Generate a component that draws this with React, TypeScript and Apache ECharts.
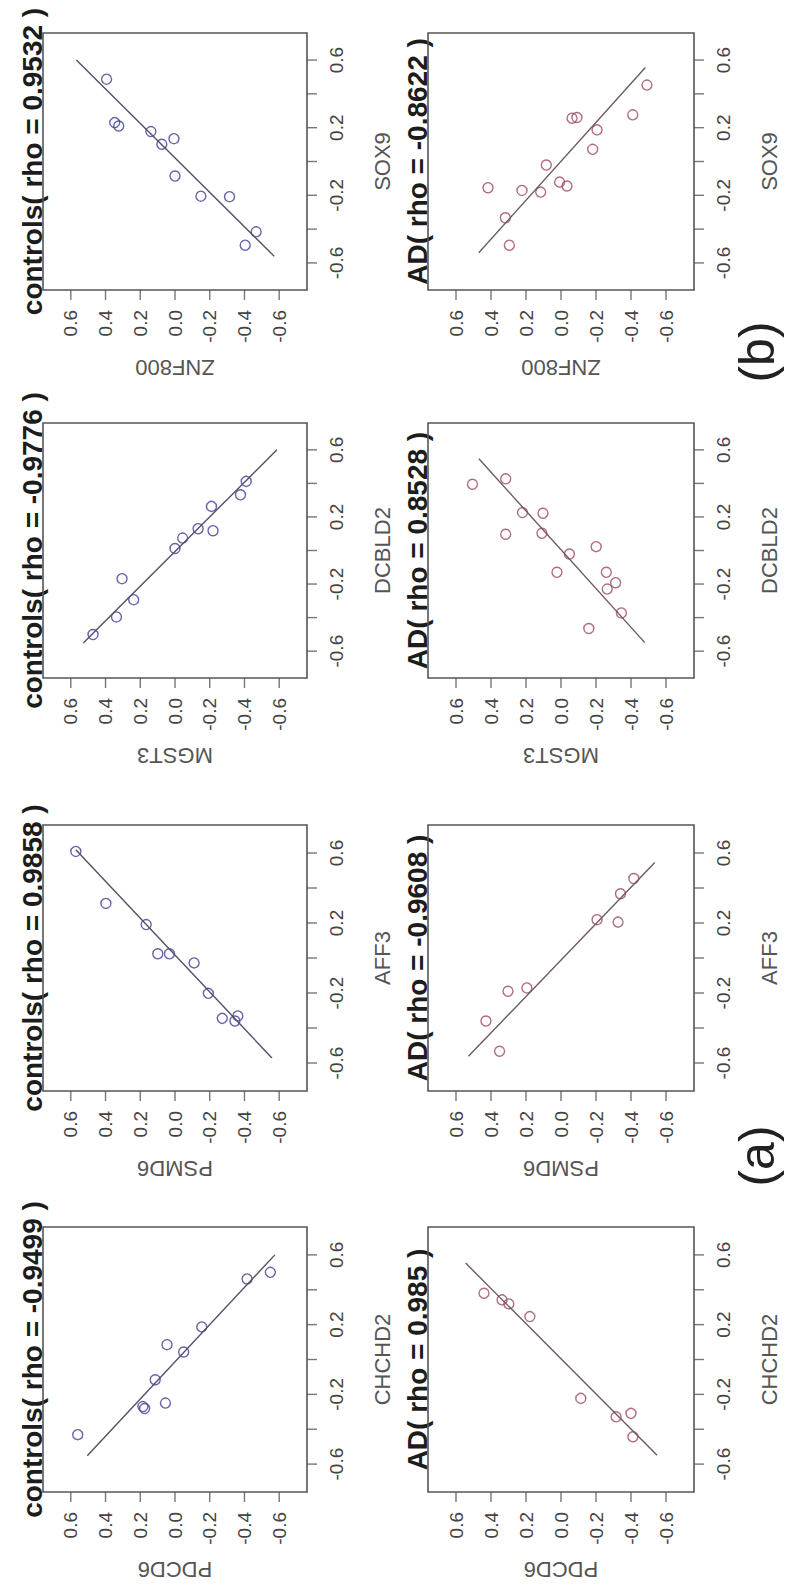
import React, { useEffect, useRef } from "react";
import * as echarts from "echarts";

// Axis range covered by the tick marks; the frame extends a little past it
const TICK_MIN = -0.6;
const TICK_MAX = 0.6;
const TICK_STEP = 0.2;
const FRAME_LIMIT = 0.76;
const TICK_VALUES = [-0.6, -0.4, -0.2, 0, 0.2, 0.4, 0.6];
const SIDE_LABELS = [-0.6, -0.2, 0.2, 0.6];

// Gene pairs per row: bottom axis gene, side axis gene
const bottomGenes = ["ZNF800", "MGST3", "PSMD6", "PDCD6"];
const sideGenes = ["SOX9", "DCBLD2", "AFF3", "CHCHD2"];
const rhoControls = ["0.9532", "-0.9776", "0.9858", "-0.9499"];
const rhoAD = ["-0.8622", "0.8528", "-0.9608", "0.985"];

// Points are [bottom gene, side gene]
const znf800Sox9Controls = [
  [0.394, 0.487], [0.347, 0.23], [0.324, 0.21], [0.139, 0.177], [0.076, 0.102],
  [0.006, 0.135], [0.0, -0.086], [-0.149, -0.205], [-0.314, -0.208], [-0.467, -0.416], [-0.404, -0.495],
];
const znf800Sox9AD = [
  [0.417, -0.155], [0.318, -0.333], [0.295, -0.495], [0.223, -0.171], [0.116, -0.181],
  [0.084, -0.021], [0.008, -0.122], [-0.034, -0.145], [-0.063, 0.256], [-0.091, 0.26],
  [-0.181, 0.072], [-0.206, 0.187], [-0.41, 0.276], [-0.491, 0.452],
];
const mgst3Dcbld2Controls = [
  [0.472, -0.501], [0.337, -0.396], [0.305, -0.168], [0.238, -0.293], [0.0, 0.012],
  [-0.044, 0.074], [-0.133, 0.13], [-0.21, 0.263], [-0.219, 0.118], [-0.377, 0.332], [-0.41, 0.412],
];
const mgst3Dcbld2AD = [
  [0.506, 0.395], [0.316, 0.427], [0.22, 0.226], [0.103, 0.222], [0.316, 0.097],
  [0.109, 0.103], [-0.048, -0.021], [0.023, -0.13], [-0.201, 0.023], [-0.259, -0.13],
  [-0.312, -0.192], [-0.264, -0.23], [-0.345, -0.372], [-0.159, -0.465],
];
const psmd6Aff3Controls = [
  [0.571, 0.609], [0.398, 0.312], [0.166, 0.191], [0.099, 0.024], [0.032, 0.024],
  [-0.11, -0.028], [-0.192, -0.202], [-0.272, -0.345], [-0.345, -0.36], [-0.362, -0.331],
];
const psmd6Aff3AD = [
  [0.429, -0.36], [0.351, -0.533], [0.303, -0.19], [0.195, -0.171],
  [-0.206, 0.219], [-0.326, 0.205], [-0.34, 0.367], [-0.416, 0.454],
];
const pdcd6Chchd2Controls = [
  [0.56, -0.431], [0.185, -0.27], [0.175, -0.281], [0.055, -0.25], [0.114, -0.116],
  [0.046, 0.085], [-0.05, 0.043], [-0.154, 0.187], [-0.415, 0.462], [-0.549, 0.5],
];
const pdcd6Chchd2AD = [
  [0.44, 0.38], [0.337, 0.342], [0.298, 0.319], [0.178, 0.246],
  [-0.113, -0.223], [-0.315, -0.329], [-0.4, -0.309], [-0.411, -0.443],
];

// Fitted line end points, [bottom gene, side gene]
const fitControls = [
  [[0.568, 0.6], [-0.571, -0.56]],
  [[0.528, -0.551], [-0.587, 0.6]],
  [[0.571, 0.619], [-0.558, -0.571]],
  [[0.505, -0.552], [-0.575, 0.6]],
];
const fitAD = [
  [[0.47, -0.54], [-0.482, 0.556]],
  [[0.469, 0.547], [-0.479, -0.549]],
  [[0.529, -0.562], [-0.536, 0.546]],
  [[0.545, 0.553], [-0.549, -0.549]],
];

const pointsControls = [znf800Sox9Controls, mgst3Dcbld2Controls, psmd6Aff3Controls, pdcd6Chchd2Controls];
const pointsAD = [znf800Sox9AD, mgst3Dcbld2AD, psmd6Aff3AD, pdcd6Chchd2AD];

// Panel frames (outer box of each plot)
const ROW_TOP = [33, 423, 825, 1227];
const ROW_H = [257, 255, 266, 265];
const COL_LEFT = [43, 428];
const COL_W = [264, 266];
const TICK_LEN = 10;

const FONT = "'Liberation Sans', Arial, sans-serif";
const FRAME = "#555";
const GROUP_STYLE = [
  { point: "#3f3f93", line: "#505068", title: "controls" },
  { point: "#9c4a5c", line: "#6c5a5e", title: "AD" },
];

const fmt = (v: number) => {
  const s = (Math.round(v * 10) / 10).toFixed(1);
  return s === "-0.0" ? "0.0" : s;
};
const fmtSide = (v: number) =>
  SIDE_LABELS.some((t) => Math.abs(t - v) < 1e-6) ? fmt(v) : "";

const hiddenAxis = (gridIndex: number, min = TICK_MIN, max = TICK_MAX) => ({
  gridIndex, type: "value", min, max, show: false,
  axisLine: { show: false }, axisTick: { show: false }, axisLabel: { show: false }, splitLine: { show: false },
});

export default function App() {
  const ref = useRef<HTMLDivElement>(null);

  useEffect(() => {
    if (!ref.current) return;
    const chart = echarts.init(ref.current, undefined, { renderer: "svg" });

    const grids: any[] = [];
    const xAxes: any[] = [];
    const yAxes: any[] = [];
    const series: any[] = [];
    const graphics: any[] = [];

    const f = TICK_MAX / FRAME_LIMIT;
    const labelBase = { rotate: 90, margin: 10, fontSize: 19, color: "#444", fontFamily: FONT };
    const tickMarkStyle = { color: FRAME, borderWidth: 0 };

    for (let r = 0; r < 4; r++) {
      for (let c = 0; c < 2; c++) {
        const boxL = COL_LEFT[c];
        const boxT = ROW_TOP[r];
        const w = COL_W[c];
        const h = ROW_H[r];
        const st = GROUP_STYLE[c];
        const padX = (w / 2) * (1 - f);
        const padY = (h / 2) * (1 - f);
        const inL = boxL + padX;
        const inT = boxT + padY;
        const inW = w - 2 * padX;
        const inH = h - 2 * padY;

        // Frame around the plot
        graphics.push({
          type: "rect", silent: true, z: 5,
          shape: { x: boxL, y: boxT, width: w, height: h },
          style: { fill: "none", stroke: FRAME, lineWidth: 1.6 },
        });

        // Plot area: the tick range -0.6..0.6 spans the inner part of the frame
        const k = grids.length;
        grids.push({ left: inL, top: inT, width: inW, height: inH, show: false });
        xAxes.push({ ...hiddenAxis(k), inverse: true });
        yAxes.push(hiddenAxis(k));

        // Bottom axis strip, holding the labels and the outward tick marks
        const kb = grids.length;
        grids.push({ left: inL, top: boxT + h, width: inW, height: TICK_LEN, show: false });
        xAxes.push({
          gridIndex: kb, type: "value", inverse: true, position: "bottom",
          min: TICK_MIN, max: TICK_MAX, interval: TICK_STEP,
          axisLine: { show: false, onZero: false }, axisTick: { show: false }, splitLine: { show: false },
          axisLabel: { ...labelBase, formatter: fmt },
        });
        yAxes.push(hiddenAxis(kb, -1, 1));
        series.push({
          type: "scatter", xAxisIndex: kb, yAxisIndex: kb, silent: true, clip: false,
          data: TICK_VALUES.map((v) => [v, 0]),
          symbol: "rect", symbolSize: [1.4, TICK_LEN], itemStyle: tickMarkStyle,
        });

        // Side axis strip
        const ks = grids.length;
        grids.push({ left: boxL + w, top: inT, width: TICK_LEN, height: inH, show: false });
        xAxes.push(hiddenAxis(ks, -1, 1));
        yAxes.push({
          gridIndex: ks, type: "value", position: "right",
          min: TICK_MIN, max: TICK_MAX, interval: TICK_STEP,
          axisLine: { show: false, onZero: false }, axisTick: { show: false }, splitLine: { show: false },
          axisLabel: { ...labelBase, formatter: fmtSide },
        });
        series.push({
          type: "scatter", xAxisIndex: ks, yAxisIndex: ks, silent: true, clip: false,
          data: TICK_VALUES.map((v) => [0, v]),
          symbol: "rect", symbolSize: [TICK_LEN, 1.4], itemStyle: tickMarkStyle,
        });

        const pts = c === 0 ? pointsControls[r] : pointsAD[r];
        const fit = c === 0 ? fitControls[r] : fitAD[r];
        series.push({
          type: "line", xAxisIndex: k, yAxisIndex: k, data: fit, clip: false,
          showSymbol: false, silent: true,
          lineStyle: { color: st.line, width: 1.4 },
        });
        series.push({
          type: "scatter", xAxisIndex: k, yAxisIndex: k, data: pts, clip: false,
          symbol: "circle", symbolSize: 10,
          itemStyle: { color: "rgba(0,0,0,0)", borderColor: st.point, borderWidth: 1.4 },
        });

        const rho = c === 0 ? rhoControls[r] : rhoAD[r];
        // Panel title, reading upward along the left edge
        graphics.push({
          type: "text", x: boxL - 11, y: boxT + h / 2, rotation: Math.PI / 2,
          style: {
            text: `${st.title}( rho = ${rho} )`, fontSize: 28, fontWeight: "bold",
            fontFamily: FONT, fill: "#1c1c1c", align: "center", verticalAlign: "middle",
          },
        });
        // Side axis gene name
        graphics.push({
          type: "text", x: boxL + w + 75, y: boxT + h / 2, rotation: Math.PI / 2,
          style: {
            text: sideGenes[r], fontSize: 22, fontFamily: FONT, fill: "#555",
            align: "center", verticalAlign: "middle",
          },
        });
        // Bottom axis gene name, upside down
        graphics.push({
          type: "text", x: boxL + w / 2, y: boxT + h + 77, rotation: Math.PI,
          style: {
            text: bottomGenes[r], fontSize: 22, fontFamily: FONT, fill: "#555",
            align: "center", verticalAlign: "middle",
          },
        });
      }
    }

    // Figure part labels
    graphics.push({
      type: "text", x: 757, y: 352, rotation: Math.PI / 2,
      style: { text: "(b)", fontSize: 50, fontFamily: FONT, fill: "#222", align: "center", verticalAlign: "middle" },
    });
    graphics.push({
      type: "text", x: 757, y: 1156, rotation: Math.PI / 2,
      style: { text: "(a)", fontSize: 50, fontFamily: FONT, fill: "#222", align: "center", verticalAlign: "middle" },
    });

    chart.setOption({
      animation: false,
      backgroundColor: "#ffffff",
      grid: grids,
      xAxis: xAxes,
      yAxis: yAxes,
      series,
      graphic: { elements: graphics },
    });

    return () => chart.dispose();
  }, []);

  return (
    <div
      ref={ref}
      style={{ position: "absolute", left: 0, top: 0, width: 786, height: 1594, background: "#fff" }}
    />
  );
}
